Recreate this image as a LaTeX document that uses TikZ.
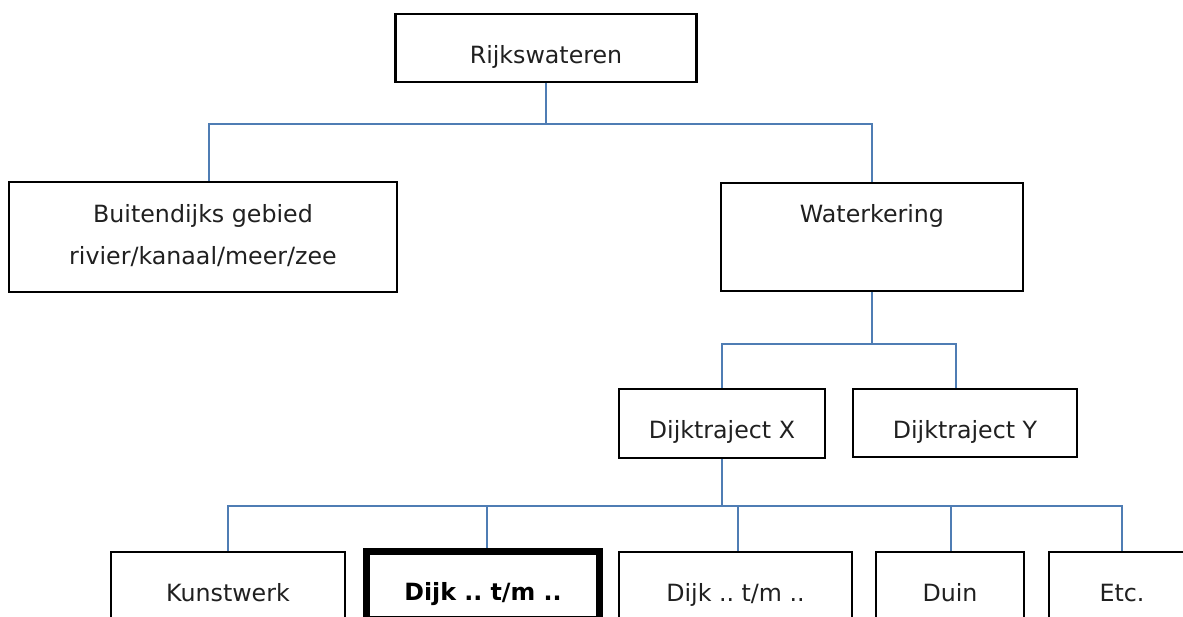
\documentclass[tikz,border=0pt]{standalone}
\usepackage{fontspec}
\setmainfont{DejaVu Sans}
\usepackage{xcolor}
\definecolor{lineblue}{RGB}{79,125,180}
\definecolor{txtgray}{RGB}{32,32,32}
\frenchspacing

\begin{document}
\begin{tikzpicture}[x=0.2mm,y=-0.2mm,
  box/.style={draw=black,line width=1.5pt,text=txtgray,align=center,
    font=\fontsize{13.5}{24}\selectfont,
    execute at begin node=\rule[-3pt]{0pt}{23.4pt},
    execute at end node=\rule[-3pt]{0pt}{3pt}},
  thickbox/.style={box,line width=3.8pt,text=black,font=\fontsize{13.5}{24}\selectfont\bfseries},
  conn/.style={color=lineblue,line width=1.2pt}]
  \def\W{1183}
  \def\H{617}

  \useasboundingbox (0,0) rectangle (\W,\H);
  \clip (0,0) rectangle (\W,\H);

%top levels:
  \node[box,minimum width=60.2mm,minimum height=13.6mm] (rijk) at (546,48) {Rijkswateren};
  \node[box,minimum width=77.6mm,minimum height=22mm] (buiten) at (203,237) {Buitendijks gebied\\rivier/kanaal/meer/zee};
  \node[box,minimum width=60.4mm,minimum height=21.6mm] (water) at (872,237) {Waterkering\\\mbox{}};

  \node[box,minimum width=41.2mm,minimum height=13.8mm] (trajX) at (722,423.5) {Dijktraject X};
  \node[box,minimum width=44.8mm,minimum height=13.6mm] (trajY) at (965,423) {Dijktraject Y};

%bottom row:
  \node[box,minimum width=46.8mm,minimum height=13.6mm] (kunst) at (228,586) {Kunstwerk};
  \node[thickbox,minimum width=46.6mm,minimum height=13.6mm] (dijkA) at (483,585.5) {Dijk .. t/m ..};
  \node[box,minimum width=46.6mm,minimum height=13.6mm] (dijkB) at (735.5,586) {Dijk .. t/m ..};
  \node[box,minimum width=29.6mm,minimum height=13.6mm] (duin) at (950,586) {Duin};
  \node[box,minimum width=29.2mm,minimum height=13.6mm] (etc) at (1122,586) {Etc.};
%%%%%%

  \draw[conn] (rijk.south) -- ++(0,41) coordinate (j1);
  \draw[conn] ([xshift=1.2mm]buiten.north) |- (j1) -| (water.north);

  \draw[conn] (water.south) -- ++(0,52) coordinate (j2);
  \draw[conn] (trajX.north) |- (j2) -| ([xshift=-1.8mm]trajY.north);

  \draw[conn] (trajX.south) -- ++(0,46.5) coordinate (j3);
  \draw[conn] (kunst.north) |- (j3) -| (etc.north);
  \foreach \n/\s in {dijkA/0.8,dijkB/0.5,duin/0.2}
    \draw[conn] ([xshift=\s mm]\n.north) -- ([xshift=\s mm]\n.north |- j3);

\end{tikzpicture}
\end{document}
